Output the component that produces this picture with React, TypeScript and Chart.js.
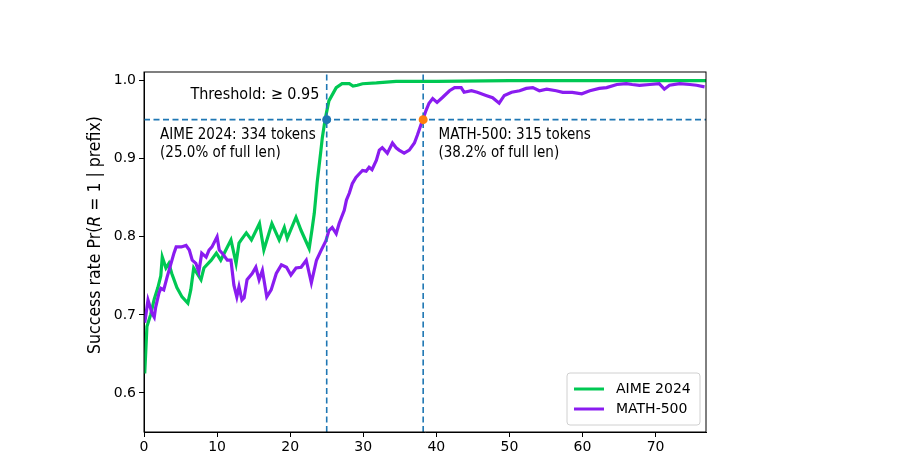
import React, { useEffect, useRef } from 'react';
import { Chart, registerables } from 'chart.js';

Chart.register(...registerables);

// AIME 2024 curve
const aimeX = [0.1, 0.4, 0.9, 1.4, 1.9, 2.3, 2.5, 3.0, 3.4, 3.8, 4.5, 5.2, 6.0, 6.4, 6.8, 7.8, 8.2, 9.2, 9.9, 10.5, 11.2, 11.9, 12.6, 13.0, 13.3, 14.0, 14.7, 15.8, 16.4, 17.5, 18.5, 19.2, 19.6, 20.8, 21.5, 22.6, 23.0, 23.3, 23.7, 24.2, 24.4, 24.8, 25.3, 26.3, 27.1, 28.1, 28.6, 29.2, 29.9, 31.8, 34.5, 40, 50, 60, 70, 76.9];
const aimeY = [0.625, 0.685, 0.70, 0.72, 0.735, 0.75, 0.774, 0.76, 0.766, 0.753, 0.735, 0.723, 0.715, 0.732, 0.76, 0.745, 0.76, 0.77, 0.779, 0.77, 0.783, 0.796, 0.766, 0.792, 0.796, 0.805, 0.796, 0.817, 0.783, 0.817, 0.796, 0.812, 0.798, 0.825, 0.808, 0.785, 0.81, 0.83, 0.87, 0.91, 0.927, 0.951, 0.974, 0.991, 0.996, 0.996, 0.993, 0.994, 0.996, 0.997, 0.999, 0.999, 1.0, 1.0, 1.0, 1.0];

// MATH-500 curve
const mathX = [0.1, 0.55, 1.1, 1.4, 1.6, 2.05, 2.3, 2.7, 3.15, 3.7, 4.1, 4.4, 5.1, 5.75, 6.2, 6.6, 7.1, 7.5, 7.9, 8.5, 8.9, 9.3, 10.0, 10.3, 10.7, 11.4, 11.9, 12.3, 12.7, 13.0, 13.4, 13.7, 14.1, 14.8, 15.3, 15.75, 16.2, 16.8, 17.4, 18.1, 18.8, 19.5, 20.1, 20.8, 21.5, 22.2, 22.9, 23.6, 24.2, 24.9, 25.3, 25.75, 26.3, 26.7, 27.4, 27.7, 28.1, 28.5, 29.0, 29.5, 29.9, 30.4, 30.8, 31.2, 31.8, 32.2, 32.6, 33.3, 34.0, 34.5, 34.9, 35.6, 36.3, 37.0, 37.4, 38.1, 38.6, 39.0, 39.5, 40.1, 40.8, 41.8, 42.5, 43.4, 43.8, 44.8, 45.6, 46.8, 47.7, 48.6, 49.3, 50.3, 51.4, 52.3, 53.2, 54.1, 55.1, 56.4, 57.3, 58.6, 59.9, 61.0, 62.3, 63.3, 64.7, 66.0, 66.8, 67.8, 69.2, 70.5, 71.2, 71.9, 73.3, 74.7, 75.6, 76.7];
const mathY = [0.69, 0.719, 0.702, 0.697, 0.71, 0.728, 0.734, 0.732, 0.748, 0.766, 0.779, 0.787, 0.787, 0.789, 0.783, 0.77, 0.766, 0.755, 0.779, 0.774, 0.783, 0.787, 0.80, 0.783, 0.779, 0.77, 0.77, 0.738, 0.723, 0.736, 0.719, 0.722, 0.745, 0.753, 0.761, 0.745, 0.757, 0.723, 0.732, 0.753, 0.764, 0.761, 0.751, 0.76, 0.761, 0.77, 0.741, 0.77, 0.782, 0.795, 0.808, 0.812, 0.804, 0.817, 0.834, 0.847, 0.856, 0.868, 0.876, 0.881, 0.885, 0.884, 0.889, 0.886, 0.898, 0.911, 0.914, 0.907, 0.92, 0.914, 0.911, 0.907, 0.911, 0.92, 0.93, 0.949, 0.962, 0.971, 0.977, 0.972, 0.978, 0.987, 0.991, 0.991, 0.985, 0.987, 0.985, 0.981, 0.978, 0.971, 0.981, 0.985, 0.987, 0.99, 0.991, 0.987, 0.989, 0.987, 0.985, 0.985, 0.983, 0.987, 0.99, 0.991, 0.995, 0.996, 0.995, 0.994, 0.995, 0.996, 0.989, 0.994, 0.996, 0.995, 0.994, 0.992];

const xTicks = [0, 10, 20, 30, 40, 50, 60, 70];
const yTicks = [0.6, 0.7, 0.8, 0.9, 1.0];
const threshold = 0.95;
const crossX = [25.0, 38.2];
const seriesNames = ['AIME 2024', 'MATH-500'];
const seriesColors = ['#00c853', '#8a1cf0'];

const annotations = [
  { lines: ['Threshold: \u2265 0.95'], x: 24.0, y: 0.992, size: 16, align: 'right' as CanvasTextAlign },
  { lines: ['AIME 2024: 334 tokens', '(25.0% of full len)'], x: 2.2, y: 0.940, size: 15, align: 'left' as CanvasTextAlign },
  { lines: ['MATH-500: 315 tokens', '(38.2% of full len)'], x: 40.3, y: 0.940, size: 15, align: 'left' as CanvasTextAlign },
];

const TICK_FONT = "'DejaVu Sans', sans-serif";
const NOTE_FONT = "'DejaVu Sans Condensed', 'DejaVu Sans', sans-serif";

const overlay = {
  id: 'overlay',
  afterDatasetsDraw(chart: any) {
    const { ctx, chartArea: a, scales } = chart;
    const xs = scales.x;
    const ys = scales.y;
    ctx.save();

    // axes frame on all four sides
    ctx.strokeStyle = '#000';
    ctx.lineWidth = 1;
    ctx.strokeRect(a.left, a.top, a.right - a.left, a.bottom - a.top);

    // annotations
    ctx.fillStyle = '#000';
    ctx.textBaseline = 'top';
    annotations.forEach((n) => {
      ctx.font = `${n.size}px ${NOTE_FONT}`;
      ctx.textAlign = n.align;
      const px = xs.getPixelForValue(n.x);
      const py = ys.getPixelForValue(n.y);
      n.lines.forEach((t, i) => ctx.fillText(t, px, py + i * 18));
    });

    // legend
    const w = 133, h = 52;
    const lx = a.right - w - 6;
    const ly = a.bottom - h - 7;
    ctx.beginPath();
    ctx.roundRect(lx, ly, w, h, 3);
    ctx.fillStyle = 'rgba(255,255,255,0.8)';
    ctx.fill();
    ctx.strokeStyle = '#d0d0d0';
    ctx.stroke();
    ctx.font = `14px ${TICK_FONT}`;
    ctx.textAlign = 'left';
    ctx.textBaseline = 'middle';
    seriesNames.forEach((name, i) => {
      const yy = ly + 16 + i * 20;
      ctx.strokeStyle = seriesColors[i];
      ctx.lineWidth = 3;
      ctx.beginPath();
      ctx.moveTo(lx + 7, yy);
      ctx.lineTo(lx + 37, yy);
      ctx.stroke();
      ctx.fillStyle = '#000';
      ctx.fillText(name, lx + 49, yy);
    });

    // y axis title with italic R
    const parts = [
      { t: 'Success rate Pr(', f: `17.5px ${NOTE_FONT}` },
      { t: 'R', f: `italic 17.5px ${NOTE_FONT}` },
      { t: ' = 1 | prefix)', f: `17.5px ${NOTE_FONT}` },
    ];
    let total = 0;
    parts.forEach((p) => { ctx.font = p.f; total += ctx.measureText(p.t).width; });
    ctx.translate(95, 235);
    ctx.rotate(-Math.PI / 2);
    ctx.textBaseline = 'middle';
    let cx = -total / 2;
    parts.forEach((p) => {
      ctx.font = p.f;
      ctx.fillText(p.t, cx, 0);
      cx += ctx.measureText(p.t).width;
    });
    ctx.restore();
  },
};

export default function App() {
  const canvasRef = useRef<HTMLCanvasElement>(null);
  const chartRef = useRef<Chart | null>(null);

  useEffect(() => {
    if (!canvasRef.current) return;
    if (chartRef.current) chartRef.current.destroy();

    const dashed = {
      borderColor: '#1f77b4',
      borderWidth: 1.6,
      borderDash: [6, 3.5],
      pointRadius: 0,
      order: 1,
    };

    chartRef.current = new Chart(canvasRef.current, {
      type: 'line',
      data: {
        datasets: [
          {
            label: seriesNames[0],
            data: aimeX.map((x, i) => ({ x, y: aimeY[i] })),
            borderColor: seriesColors[0],
            borderWidth: 3.2,
            pointRadius: 0,
            order: 3,
          },
          {
            label: seriesNames[1],
            data: mathX.map((x, i) => ({ x, y: mathY[i] })),
            borderColor: seriesColors[1],
            borderWidth: 3.2,
            pointRadius: 0,
            order: 2,
          },
          { ...dashed, label: 'thr', data: [{ x: 0, y: threshold }, { x: 76.9, y: threshold }] },
          { ...dashed, label: 'v1', data: [{ x: crossX[0], y: 0.55 }, { x: crossX[0], y: 1.011 }] },
          { ...dashed, label: 'v2', data: [{ x: crossX[1], y: 0.55 }, { x: crossX[1], y: 1.011 }] },
          {
            label: 'p1',
            data: [{ x: crossX[0], y: threshold }],
            showLine: false,
            pointRadius: 4.5,
            pointBackgroundColor: '#1f77b4',
            pointBorderWidth: 0,
            order: 0,
          },
          {
            label: 'p2',
            data: [{ x: crossX[1], y: threshold }],
            showLine: false,
            pointRadius: 4.5,
            pointBackgroundColor: '#ff7f0e',
            pointBorderWidth: 0,
            order: 0,
          },
        ],
      },
      options: {
        animation: false,
        responsive: false,
        layout: { padding: { top: 72, right: 195, left: 0, bottom: 0 } },
        plugins: {
          legend: { display: false },
          tooltip: { enabled: false },
        },
        scales: {
          x: {
            type: 'linear',
            min: 0,
            max: 76.9,
            afterFit: (s: any) => { s.height = 19; },
            afterBuildTicks: (s: any) => { s.ticks = xTicks.map((v) => ({ value: v })); },
            grid: { drawOnChartArea: false, drawTicks: true, tickLength: 5, color: '#000' },
            border: { display: true, color: '#000', width: 1 },
            ticks: { color: '#000', font: { family: TICK_FONT, size: 14 }, padding: 2, maxRotation: 0 },
          },
          y: {
            type: 'linear',
            min: 0.55,
            max: 1.011,
            afterFit: (s: any) => { s.width = 144; },
            afterBuildTicks: (s: any) => { s.ticks = yTicks.map((v) => ({ value: v })); },
            grid: { drawOnChartArea: false, drawTicks: true, tickLength: 5, color: '#000' },
            border: { display: true, color: '#000', width: 1 },
            ticks: {
              color: '#000',
              font: { family: TICK_FONT, size: 14 },
              padding: 3,
              callback: (v: any) => Number(v).toFixed(1),
            },
          },
        },
      },
      plugins: [overlay],
    });

    return () => {
      if (chartRef.current) {
        chartRef.current.destroy();
        chartRef.current = null;
      }
    };
  }, []);

  return (
    <div style={{ position: 'absolute', left: 0, top: 0, width: 901, height: 451, background: '#fff' }}>
      <canvas ref={canvasRef} width={901} height={451}></canvas>
    </div>
  );
}
